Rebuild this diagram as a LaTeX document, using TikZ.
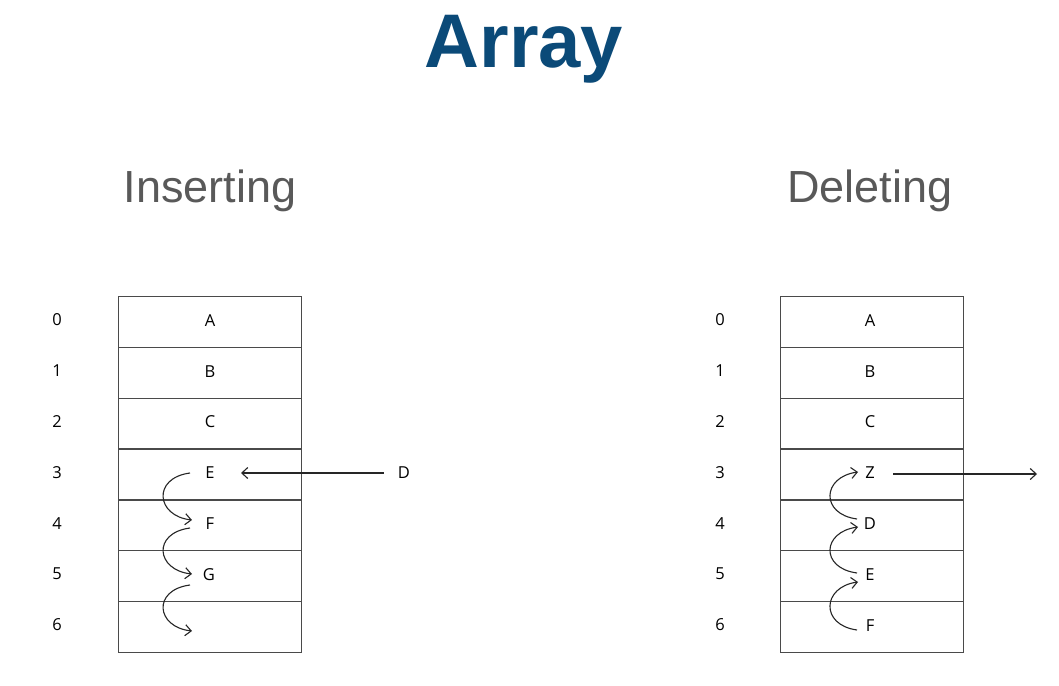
\documentclass[tikz,border=0pt]{standalone}
\usepackage{fontspec}
\setmainfont{Liberation Sans}
\newfontfamily\cellfont{Open Sans}
\usetikzlibrary{arrows.meta}
\definecolor{titleblue}{HTML}{0B4A78}
\definecolor{subgray}{HTML}{595959}
\definecolor{linegray}{HTML}{4A4A4A}
\tikzset{
  cellrow/.style={draw=linegray, line width=1.4pt, minimum width=183pt, minimum height=50.8pt, inner sep=0pt, anchor=north west},
  lbl/.style={font=\cellfont\fontsize{16.5}{19}\selectfont, inner sep=1pt},
  idx/.style={font=\cellfont\fontsize{16.5}{19}\selectfont, inner sep=1pt},
  arr/.style={line width=1.1pt, draw=black!85, -{Straight Barb[length=6pt,width=11pt]}},
  sub/.style={font=\fontsize{45}{52}\selectfont, text=subgray},
}
\begin{document}
\begin{tikzpicture}[x=1pt,y=-1pt]
\useasboundingbox[fill=white] (0,0) rectangle (1059,685);
\node[font=\bfseries\fontsize{76}{90}\selectfont, text=titleblue] (title) at (524,49) {Array};
\node[sub] (ins) at (210,191) {Inserting};
\node[sub] (del) at (870,191) {Deleting};
% left table
\foreach \i in {0,...,6} {
  \node[cellrow] (L\i) at (118,{296+50.8*\i}) {};
  \node[idx] (Li\i) at (57,{320+50.8*\i}) {\i};
}
% right table
\foreach \i in {0,...,6} {
  \node[cellrow] (R\i) at (779.5,{296+50.8*\i}) {};
  \node[idx] (Ri\i) at (720,{320+50.8*\i}) {\i};
}
% left letters
\node[lbl] (LA) at (210,321) {A};
\node[lbl] (LB) at (210,372) {B};
\node[lbl] (LC) at (210,422) {C};
\node[lbl] (LE) at (210,473) {E};
\node[lbl] (LF) at (210,524) {F};
\node[lbl] (LG) at (209,575) {G};
\node[lbl] (LD) at (404,473) {D};
\draw[arr] (LD.west) ++(-13,0) coordinate (ds) (ds) -- (241,473) coordinate (de);
% left curved arrows
\coordinate (la1) at (190,473); \coordinate (lb1) at (192,520);
\coordinate (la2) at (190,528); \coordinate (lb2) at (192,574);
\coordinate (la3) at (190,585); \coordinate (lb3) at (192,631);
\draw[arr] (la1) .. controls (152,478) and (156,516) .. (lb1);
\draw[arr] (la2) .. controls (152,533) and (156,570) .. (lb2);
\draw[arr] (la3) .. controls (152,590) and (156,627) .. (lb3);
% right letters
\node[lbl] (RA) at (870,321) {A};
\node[lbl] (RB) at (870,372) {B};
\node[lbl] (RC) at (870,422) {C};
\node[lbl] (RZ) at (870,473) {Z};
\node[lbl] (RD) at (870,524) {D};
\node[lbl] (RE) at (870,575) {E};
\node[lbl] (RF) at (870,626) {F};
\coordinate (zend) at (1037,474);
\draw[arr] (893,474) coordinate (zs) -- (zend);
% right curved arrows
\coordinate (ra1) at (857,519); \coordinate (rb1) at (858,472);
\coordinate (ra2) at (857,573); \coordinate (rb2) at (858,527);
\coordinate (ra3) at (857,630); \coordinate (rb3) at (858,582);
\draw[arr] (ra1) .. controls (820,514) and (822,477) .. (rb1);
\draw[arr] (ra2) .. controls (820,568) and (822,532) .. (rb2);
\draw[arr] (ra3) .. controls (820,625) and (822,587) .. (rb3);
\end{tikzpicture}
\end{document}
